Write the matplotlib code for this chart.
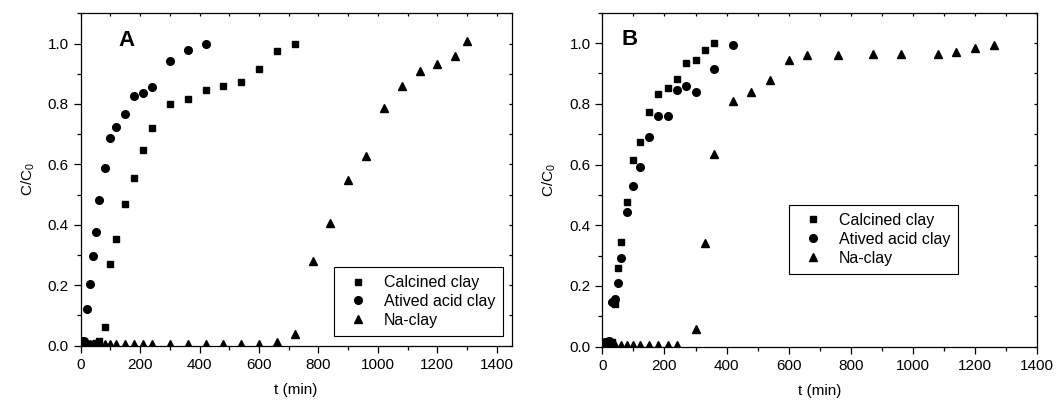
import matplotlib
matplotlib.use("Agg")
import matplotlib.pyplot as plt
from matplotlib.ticker import MultipleLocator

plt.rcParams['font.family'] = ['Liberation Sans', 'DejaVu Sans']

# panel A
calc_a_t = [10, 20, 30, 40, 50, 60, 80, 100, 120, 150, 180, 210, 240, 300, 360, 420, 480, 540, 600, 660, 720]
calc_a_c = [0.01, 0.005, 0.005, 0.005, 0.008, 0.015, 0.063, 0.27, 0.353, 0.47, 0.556, 0.649, 0.719,
            0.80, 0.817, 0.846, 0.86, 0.874, 0.917, 0.976, 1.0]
acid_a_t = [5, 10, 20, 30, 40, 50, 60, 80, 100, 120, 150, 180, 210, 240, 300, 360, 420]
acid_a_c = [0.015, 0.015, 0.12, 0.204, 0.297, 0.376, 0.483, 0.587, 0.687, 0.725, 0.767, 0.826,
            0.837, 0.856, 0.942, 0.98, 0.999]
na_a_t = [10, 20, 30, 40, 50, 60, 80, 100, 120, 150, 180, 210, 240, 300, 360, 420, 480, 540, 600,
          660, 720, 780, 840, 900, 960, 1020, 1080, 1140, 1200, 1260, 1300]
na_a_c = [0.005, 0.005, 0.005, 0.005, 0.005, 0.005, 0.005, 0.005, 0.005, 0.005, 0.005, 0.005, 0.005,
          0.005, 0.005, 0.005, 0.005, 0.005, 0.005, 0.011, 0.04, 0.28, 0.406, 0.55, 0.627, 0.788,
          0.859, 0.91, 0.932, 0.959, 1.009]

# panel B
calc_b_t = [10, 20, 30, 40, 50, 60, 80, 100, 120, 150, 180, 210, 240, 270, 300, 330, 360]
calc_b_c = [0.015, 0.02, 0.015, 0.14, 0.258, 0.345, 0.478, 0.616, 0.674, 0.774, 0.831, 0.852,
            0.88, 0.934, 0.943, 0.976, 1.0]
acid_b_t = [10, 20, 30, 40, 50, 60, 80, 100, 120, 150, 180, 210, 240, 270, 300, 360, 420]
acid_b_c = [0.015, 0.02, 0.148, 0.157, 0.21, 0.293, 0.443, 0.53, 0.592, 0.689, 0.761, 0.759,
            0.844, 0.857, 0.84, 0.914, 0.993]
na_b_t = [10, 20, 30, 40, 60, 80, 100, 120, 150, 180, 210, 240, 300, 330, 360, 420, 480, 540,
          600, 660, 760, 870, 960, 1080, 1140, 1200, 1260]
na_b_c = [0.005, 0.005, 0.005, 0.005, 0.005, 0.005, 0.005, 0.005, 0.005, 0.005, 0.005, 0.005,
          0.058, 0.342, 0.634, 0.809, 0.839, 0.879, 0.943, 0.962, 0.962, 0.963, 0.963, 0.965,
          0.97, 0.985, 0.994]

labels = ["Calcined clay", "Atived acid clay", "Na-clay"]

fig = plt.figure(figsize=(10.58, 4.04), dpi=100)
axA = fig.add_axes([0.0763, 0.1443, 0.4073, 0.8227])
axB = fig.add_axes([0.5693, 0.1418, 0.4111, 0.8268])


def draw(ax, series, xmax, letter, lx, ly, leg_loc, leg_anchor):
    marks = ["s", "o", "^"]
    sizes = [5, 5.5, 6]
    for (t, c), m, s, lab in zip(series, marks, sizes, labels):
        ax.plot(t, c, linestyle="none", marker=m, markersize=s, color="black", label=lab)
    ax.set_xlim(0, xmax)
    ax.set_ylim(0, 1.1)
    ax.xaxis.set_major_locator(MultipleLocator(200))
    ax.xaxis.set_minor_locator(MultipleLocator(100))
    ax.yaxis.set_major_locator(MultipleLocator(0.2))
    ax.yaxis.set_minor_locator(MultipleLocator(0.1))
    ax.yaxis.set_major_formatter(plt.FormatStrFormatter("%.1f"))
    ax.tick_params(which="major", direction="out", length=5, width=0.9, labelsize=11)
    ax.tick_params(which="minor", direction="out", length=3, width=0.9)
    ax.tick_params(which="both", top=True, right=True)
    for spine in ax.spines.values():
        spine.set_linewidth(0.9)
    ax.set_xlabel("t (min)", fontsize=11, labelpad=8)
    ax.set_ylabel(r"C/C$_\mathregular{0}$", fontsize=11, labelpad=8)
    ax.text(lx, ly, letter, transform=ax.transAxes, fontsize=16, fontweight="bold",
            ha="center", va="center")
    leg = ax.legend(loc=leg_loc, bbox_to_anchor=leg_anchor, fontsize=11.5, fancybox=False,
                    edgecolor="black", framealpha=1, numpoints=1, handlelength=2.0,
                    handletextpad=0.6, labelspacing=0.25, borderpad=0.5, borderaxespad=0)
    leg.get_frame().set_linewidth(0.8)


draw(axA, [(calc_a_t, calc_a_c), (acid_a_t, acid_a_c), (na_a_t, na_a_c)], 1450, "A",
     0.107, 0.917, "lower right", (0.98, 0.029))
draw(axB, [(calc_b_t, calc_b_c), (acid_b_t, acid_b_c), (na_b_t, na_b_c)], 1400, "B",
     0.062, 0.921, "lower left", (0.43, 0.218))

# top/right ticks point inwards and are short
for ax in (axA, axB):
    for tick in ax.xaxis.get_major_ticks() + ax.xaxis.get_minor_ticks():
        tick.tick2line.set_marker(3)
        tick.tick2line.set_markersize(2)
    for tick in ax.yaxis.get_major_ticks() + ax.yaxis.get_minor_ticks():
        tick.tick2line.set_marker(0)
        tick.tick2line.set_markersize(2)

fig.savefig("out.png", dpi=100)
